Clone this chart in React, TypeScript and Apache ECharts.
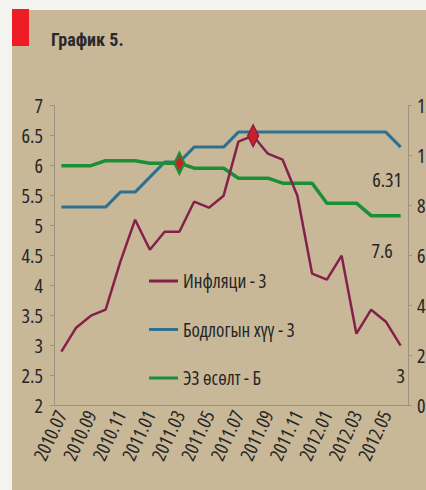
import React, { useEffect, useRef } from "react";
import * as echarts from "echarts";

const months = [
  "2010.07", "2010.08", "2010.09", "2010.10", "2010.11", "2010.12",
  "2011.01", "2011.02", "2011.03", "2011.04", "2011.05", "2011.06",
  "2011.07", "2011.08", "2011.09", "2011.10", "2011.11", "2011.12",
  "2012.01", "2012.02", "2012.03", "2012.04", "2012.05", "2012.06",
];
const inflation = [2.9, 3.3, 3.5, 3.6, 4.4, 5.1, 4.6, 4.9, 4.9, 5.4, 5.3, 5.5, 6.4, 6.5, 6.2, 6.1, 5.5, 4.2, 4.1, 4.5, 3.2, 3.6, 3.4, 3.0];
const policyRate = [5.31, 5.31, 5.31, 5.31, 5.56, 5.56, 5.81, 6.06, 6.06, 6.31, 6.31, 6.31, 6.56, 6.56, 6.56, 6.56, 6.56, 6.56, 6.56, 6.56, 6.56, 6.56, 6.56, 6.31];
const growth = [9.6, 9.6, 9.6, 9.8, 9.8, 9.8, 9.7, 9.7, 9.7, 9.5, 9.5, 9.5, 9.1, 9.1, 9.1, 8.9, 8.9, 8.9, 8.1, 8.1, 8.1, 7.6, 7.6, 7.6];
const seriesNames = ["Инфляци - З", "Бодлогын хүү - З", "ЭЗ өсөлт - Б"];
const endLabels = ["3", "6.31", "7.6"];
const inflationMarkIndex = 13;
const growthMarkIndex = 8;

const FONT = '"Open Sans", "Roboto Condensed", sans-serif';
const C_INF = "#85204a";
const C_POL = "#2f7090";
const C_GRO = "#1a8f35";
const AXIS = "#9c9380";
const TXT = "#262626";

function endItem(v: number, text: string, offset: number[], color: string) {
  return {
    value: v,
    symbol: "circle",
    symbolSize: 0.1,
    label: {
      show: true,
      formatter: text,
      position: "inside",
      offset,
      fontSize: 20,
      fontFamily: FONT,
      color: TXT,
    },
    itemStyle: { color },
  };
}

export default function App() {
  const ref = useRef<HTMLDivElement>(null);
  useEffect(() => {
    if (!ref.current) return;
    const chart = echarts.init(ref.current, null, { renderer: "svg", width: 426, height: 490 });
    const last = months.length - 1;
    const infData: any[] = inflation.map((v) => v);
    infData[inflationMarkIndex] = {
      value: inflation[inflationMarkIndex],
      symbol: "diamond",
      symbolSize: [11, 22],
      itemStyle: { color: "#cc1f2a", borderColor: "#8a1c40", borderWidth: 1.5 },
    };
    infData[last] = endItem(inflation[last], endLabels[0], [0, 30], C_INF);
    const polData: any[] = policyRate.map((v) => v);
    polData[last] = endItem(policyRate[last], endLabels[1], [-13.5, 32], C_POL);
    const groData: any[] = growth.map((v) => v);
    groData[growthMarkIndex] = {
      value: growth[growthMarkIndex],
      symbol: "diamond",
      symbolSize: [10, 21],
      itemStyle: { color: "#cc1f2a", borderColor: C_GRO, borderWidth: 2.5 },
    };
    groData[last] = endItem(growth[last], endLabels[2], [-18.5, 35], C_GRO);

    chart.setOption({
      animation: false,
      backgroundColor: "#f3f3ef",
      graphic: [
        { type: "rect", z: -1, shape: { x: 12, y: 10, width: 420, height: 490 }, style: { fill: "#c8b898" } },
        { type: "rect", z: -1, shape: { x: 12, y: 9, width: 17, height: 37 }, style: { fill: "#ee1c25" } },
        {
          type: "text",
          left: 51,
          top: 30,
          style: { text: "График 5.", font: 'bold 18px "Roboto Condensed", "Liberation Sans", sans-serif', fill: "#2a2a2a" },
        },
      ],
      legend: {
        orient: "vertical",
        left: 144,
        top: 265,
        itemWidth: 29,
        itemHeight: 3,
        itemGap: 26.5,
        icon: "rect",
        data: seriesNames,
        textStyle: { fontSize: 19, lineHeight: 22, fontFamily: FONT, color: TXT },
      },
      grid: { left: 54, right: 18, top: 105.7, bottom: 84.3, containLabel: false, outerBoundsMode: "none" },
      xAxis: {
        type: "category",
        data: months,
        boundaryGap: true,
        axisLine: { lineStyle: { color: AXIS, width: 1 } },
        axisTick: { interval: 1, length: 5, lineStyle: { color: AXIS } },
        axisLabel: { interval: 1, rotate: 65, fontSize: 19, fontFamily: FONT, color: TXT, margin: 6 },
        splitLine: { show: false },
      },
      yAxis: [
        {
          type: "value",
          position: "left",
          min: 2,
          max: 7,
          interval: 0.5,
          axisLine: { show: true, lineStyle: { color: AXIS } },
          axisTick: { show: true, length: 4, lineStyle: { color: AXIS } },
          axisLabel: { fontSize: 20, fontFamily: FONT, color: TXT, margin: 11 },
          splitLine: { show: false },
        },
        {
          type: "value",
          position: "right",
          min: 0,
          max: 12,
          interval: 2,
          axisLine: { show: true, lineStyle: { color: AXIS } },
          axisTick: { show: true, length: 4, lineStyle: { color: AXIS } },
          axisLabel: { fontSize: 20, fontFamily: FONT, color: TXT, margin: 9 },
          splitLine: { show: false },
        },
      ],
      series: [
        {
          name: seriesNames[0],
          type: "line",
          yAxisIndex: 0,
          data: infData,
          symbol: "none",
          z: 4,
          color: C_INF,
          lineStyle: { color: C_INF, width: 2.5 },
        },
        {
          name: seriesNames[1],
          type: "line",
          yAxisIndex: 0,
          data: polData,
          symbol: "none",
          z: 2,
          color: C_POL,
          lineStyle: { color: C_POL, width: 3 },
        },
        {
          name: seriesNames[2],
          type: "line",
          yAxisIndex: 1,
          data: groData,
          symbol: "none",
          z: 3,
          color: C_GRO,
          lineStyle: { color: C_GRO, width: 3.5 },
        },
      ],
    });
    return () => chart.dispose();
  }, []);
  return (
    <>
      <style>{`#chart-box text { font-stretch: 75% !important; }`}</style>
      <div
        id="chart-box"
        ref={ref}
        style={{ position: "fixed", left: 0, top: 0, width: 426, height: 490 }}
      />
    </>
  );
}
